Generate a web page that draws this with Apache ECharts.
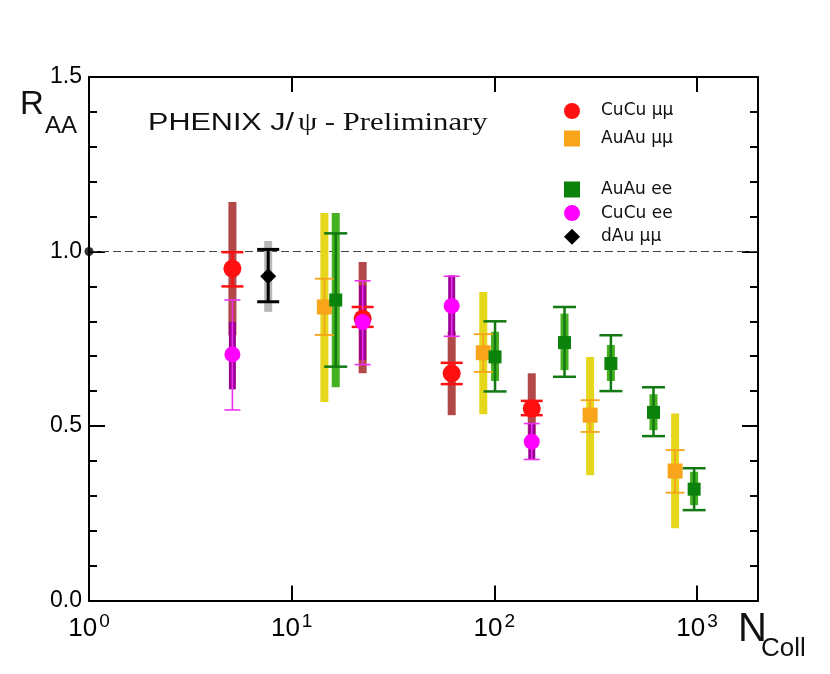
<!DOCTYPE html>
<html>
<head>
<meta charset="utf-8">
<script src="https://cdn.jsdelivr.net/npm/echarts@6/dist/echarts.min.js"></script>
<style>
  html, body { margin: 0; padding: 0; background: #fff; }
  #main { width: 830px; height: 674px; }
</style>
</head>
<body>
<div id="main"></div>
<script>
// N_coll positions and R_AA values
// stat = [low, high] of the thin bar with caps, sys = [low, high] of the thick bar
const cucuMuN = [5.1, 22.4, 61.6, 153]
const cucuMuR = [0.951, 0.808, 0.651, 0.550]
const cucuMuStat = [[0.900, 0.998], [0.784, 0.841], [0.620, 0.681], [0.531, 0.572]]
const cucuMuSys = [[0.760, 1.142], [0.651, 0.970], [0.531, 0.771], [0.450, 0.651]]

const cucuEeN = [5.1, 22.4, 61.6, 153]
const cucuEeR = [0.705, 0.798, 0.844, 0.455]
const cucuEeStat = [[0.546, 0.861], [0.676, 0.916], [0.757, 0.929], [0.404, 0.507]]
const cucuEeSys = [[0.605, 0.798], [0.689, 0.903], [0.755, 0.932], [0.404, 0.509]]

const auauMuN = [14.5, 88.2, 297, 780]
const auauMuR = [0.841, 0.710, 0.531, 0.371]
const auauMuStat = [[0.761, 0.922], [0.655, 0.763], [0.483, 0.574], [0.309, 0.431]]
const auauMuSys = [[0.569, 1.110], [0.534, 0.884], [0.359, 0.698], [0.207, 0.536]]

const auauEeN = [16.5, 100.8, 222, 376, 610, 968]
const auauEeR = [0.861, 0.698, 0.739, 0.679, 0.539, 0.319]
const auauEeStat = [[0.670, 1.052], [0.599, 0.800], [0.641, 0.841], [0.600, 0.760], [0.471, 0.611], [0.259, 0.379]]
const auauEeSys = [[0.611, 1.110], [0.629, 0.770], [0.660, 0.822], [0.629, 0.732], [0.488, 0.591], [0.273, 0.369]]

const dauMuN = [7.66]
const dauMuR = [0.929]
const dauMuStat = [[0.856, 1.006]]
const dauMuSys = [[0.827, 1.030]]

const yTicks = [0, 0.5, 1.0, 1.5]

const sansFont = '"Liberation Sans", Arial, sans-serif'
const serifFont = '"Liberation Serif", "Times New Roman", serif'
const legendFont = '"DejaVu Sans", sans-serif'

function points (xs, ys) {
    return xs.map((x, i) => [x, ys[i]])
}
function ranges (xs, rs) {
    return xs.map((x, i) => [x, rs[i][0], rs[i][1]])
}

// thick bar for systematic errors
function sysBar (width) {
    return function (params, api) {
        const hi = api.coord([api.value(0), api.value(2)])
        const lo = api.coord([api.value(0), api.value(1)])
        return {
            type: 'rect',
            shape: { x: hi[0] - width / 2, y: hi[1], width: width, height: lo[1] - hi[1] },
            style: { fill: api.visual('color') }
        }
    }
}

// thin bar with caps for statistical errors
function statBar (cap, lw) {
    return function (params, api) {
        const hi = api.coord([api.value(0), api.value(2)])
        const lo = api.coord([api.value(0), api.value(1)])
        const st = { stroke: api.visual('color'), lineWidth: lw }
        return {
            type: 'group',
            children: [
                { type: 'line', shape: { x1: hi[0], y1: hi[1], x2: lo[0], y2: lo[1] }, style: st },
                { type: 'line', shape: { x1: hi[0] - cap / 2, y1: hi[1], x2: hi[0] + cap / 2, y2: hi[1] }, style: st },
                { type: 'line', shape: { x1: lo[0] - cap / 2, y1: lo[1], x2: lo[0] + cap / 2, y2: lo[1] }, style: st }
            ]
        }
    }
}

function errSeries (name, data, color, render, z) {
    return {
        name: name,
        type: 'custom',
        data: data,
        encode: { x: 0, y: [1, 2] },
        itemStyle: { color: color },
        renderItem: render,
        silent: true,
        z: z
    }
}

const xAxisBase = {
    type: 'log',
    logBase: 10,
    min: 1,
    max: 2000,
    axisLine: { show: true, onZero: false, lineStyle: { color: '#000', width: 2 } },
    axisTick: { show: true, inside: true, length: 15, lineStyle: { color: '#000', width: 2 } },
    minorTick: { show: false },
    splitLine: { show: false }
}

const yAxisBase = {
    type: 'value',
    min: 0,
    max: 1.5,
    interval: 0.5,
    axisLine: { show: true, onZero: false, lineStyle: { color: '#000', width: 2 } },
    axisTick: { show: true, inside: true, length: 16, lineStyle: { color: '#000', width: 2 } },
    minorTick: { show: true, splitNumber: 5, length: 8, lineStyle: { color: '#000', width: 2 } },
    splitLine: { show: false }
}

function label (x, y, text, size, font, scaleX) {
    return {
        type: 'text',
        x: x,
        y: y,
        scaleX: scaleX || 1,
        originX: 0,
        originY: 0,
        style: { text: text, fontSize: size, fontFamily: font, fill: '#111', align: 'left', verticalAlign: 'middle' }
    }
}

const chart = echarts.init(document.getElementById('main'))

chart.setOption({
    animation: false,
    backgroundColor: '#fff',
    grid: { left: 89, right: 72, top: 77, bottom: 73.5 },
    xAxis: [
        Object.assign({}, xAxisBase, {
            position: 'bottom',
            axisLabel: {
                show: true,
                showMinLabel: true,
                showMaxLabel: true,
                margin: 12,
                formatter: function (v) {
                    const e = Math.log10(v)
                    if (Math.abs(e - Math.round(e)) > 1e-6) return ''
                    return '{b|10}{s|' + Math.round(e) + '}'
                },
                rich: {
                    // the tall line box pushes the base down, the exponent sits at its top
                    b: { fontSize: 26, lineHeight: 26, fontFamily: sansFont, color: '#000', verticalAlign: 'bottom' },
                    s: { fontSize: 19, lineHeight: 29, fontFamily: sansFont, color: '#000', verticalAlign: 'top', padding: [0, 0, 0, 2] }
                }
            }
        }),
        Object.assign({}, xAxisBase, { position: 'top', axisLabel: { show: false } })
    ],
    yAxis: [
        Object.assign({}, yAxisBase, {
            position: 'left',
            axisLabel: {
                show: true,
                margin: 7,
                fontSize: 23,
                fontFamily: sansFont,
                color: '#000',
                formatter: function (v) {
                    return yTicks.some(t => Math.abs(t - v) < 1e-6) ? v.toFixed(1) : ''
                }
            }
        }),
        Object.assign({}, yAxisBase, { position: 'right', axisLabel: { show: false } })
    ],
    legend: [
        {
            data: ['CuCu μμ', 'AuAu μμ'],
            orient: 'vertical',
            left: 559,
            top: 97.5,
            itemWidth: 16,
            itemHeight: 16,
            itemGap: 10.5,
            selectedMode: false,
            textStyle: { fontSize: 17, fontFamily: legendFont, color: '#111', padding: [0, 0, 0, 16] }
        },
        {
            data: ['AuAu ee', 'CuCu ee', 'dAu μμ'],
            orient: 'vertical',
            left: 559,
            top: 176,
            itemWidth: 16,
            itemHeight: 16,
            itemGap: 6.6,
            selectedMode: false,
            textStyle: { fontSize: 17, fontFamily: legendFont, color: '#111', padding: [0, 0, 0, 16] }
        }
    ],
    graphic: [
        label(148, 123.5, 'PHENIX J/', 23.5, sansFont, 1.3),
        label(298, 123.5, 'ψ - Preliminary', 26, serifFont, 1.18),
        label(20, 105, 'R', 33, sansFont),
        label(45, 126.5, 'AA', 24, sansFont),
        label(738, 629.5, 'N', 40, sansFont),
        label(761, 648.5, 'Coll', 26, sansFont)
    ],
    series: [
        // systematic bars
        errSeries('sys CuCu μμ', ranges(cucuMuN, cucuMuSys), '#b24848', sysBar(8), 2),
        errSeries('sys AuAu μμ', ranges(auauMuN, auauMuSys), '#e6d61c', sysBar(8), 2),
        errSeries('sys AuAu ee', ranges(auauEeN, auauEeSys), '#45b020', sysBar(8), 2),
        errSeries('sys dAu μμ', ranges(dauMuN, dauMuSys), '#b8b8b8', sysBar(8), 2),
        errSeries('sys CuCu ee', ranges(cucuEeN, cucuEeSys), '#9c0094', sysBar(7), 3),
        // statistical bars
        errSeries('stat CuCu μμ', ranges(cucuMuN, cucuMuStat), '#ff1010', statBar(22, 2.5), 4),
        errSeries('stat AuAu μμ', ranges(auauMuN, auauMuStat), '#f5a31a', statBar(19, 1.8), 4),
        errSeries('stat AuAu ee', ranges(auauEeN, auauEeStat), '#137a13', statBar(23, 2.5), 4),
        errSeries('stat dAu μμ', ranges(dauMuN, dauMuStat), '#000', statBar(22, 3), 4),
        errSeries('stat CuCu ee', ranges(cucuEeN, cucuEeStat), '#ee30ee', statBar(16, 1.6), 4),
        // markers
        {
            name: 'CuCu μμ', type: 'scatter', data: points(cucuMuN, cucuMuR),
            symbol: 'circle', symbolSize: 18, itemStyle: { color: '#ff1010', opacity: 1 }, z: 5, silent: true
        },
        {
            name: 'AuAu μμ', type: 'scatter', data: points(auauMuN, auauMuR),
            symbol: 'rect', symbolSize: 15, itemStyle: { color: '#f8a51c', opacity: 1 }, z: 5, silent: true
        },
        {
            name: 'AuAu ee', type: 'scatter', data: points(auauEeN, auauEeR),
            symbol: 'rect', symbolSize: 13, itemStyle: { color: '#0b820b', opacity: 1 }, z: 5, silent: true
        },
        {
            name: 'CuCu ee', type: 'scatter', data: points(cucuEeN, cucuEeR),
            symbol: 'circle', symbolSize: 16, itemStyle: { color: '#ff00ff', opacity: 1 }, z: 6, silent: true
        },
        {
            name: 'dAu μμ', type: 'scatter', data: points(dauMuN, dauMuR),
            symbol: 'diamond', symbolSize: 16, itemStyle: { color: '#000', opacity: 1 }, z: 6, silent: true
        },
        // reference line at R_AA = 1 with the dot on the axis
        {
            name: 'ref', type: 'scatter', data: [[1, 1.0]],
            symbol: 'circle', symbolSize: 9, itemStyle: { color: '#000' }, z: 7, silent: true,
            markLine: {
                silent: true,
                symbol: 'none',
                label: { show: false },
                lineStyle: { color: '#444', width: 1, type: [8, 4] },
                data: [{ yAxis: 1.0 }],
                z: 1
            }
        }
    ]
})
</script>
</body>
</html>
